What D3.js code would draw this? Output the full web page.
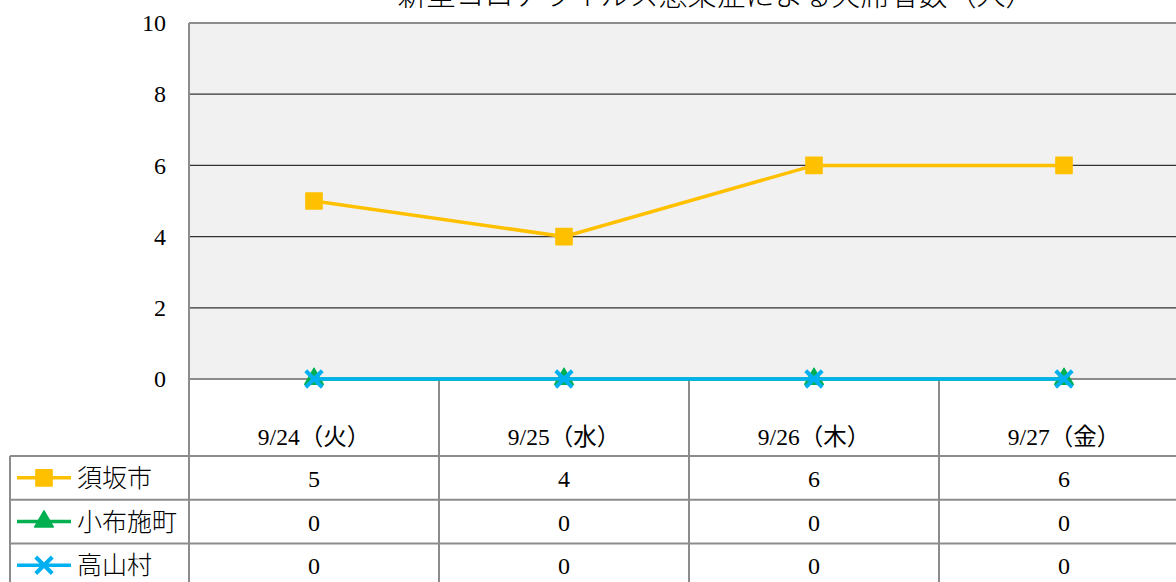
<!DOCTYPE html>
<html>
<head>
<meta charset="utf-8">
<script src="https://cdn.jsdelivr.net/npm/d3@7"></script>
<style>
body { margin: 0; background: #fff; }
text { font-family: "Liberation Serif", "Noto Sans CJK JP", serif; fill: #000; }
</style>
</head>
<body>
<div class="holder"></div>
<script>
var title = '新型コロナウイルス感染症による欠席者数（人）'
var dates = ['9/24（火）', '9/25（水）', '9/26（木）', '9/27（金）']
var names = ['須坂市', '小布施町', '高山村']
var suzaka = [5, 4, 6, 6]
var obuse = [0, 0, 0, 0]
var takayama = [0, 0, 0, 0]
var yTicks = [0, 2, 4, 6, 8, 10]

var width = 1176,
height = 582,
plotLeft = 189,
plotRight = 1189,
plotTop = 23,
plotBottom = 379,
headBottom = 456,
rowH = 43.7,
tableLeft = 10

var colors = ['#FFC000', '#00B050', '#00B0F0']
var series = [suzaka, obuse, takayama]

var svg = d3.select('.holder')
.append('svg')
.attr('width', width)
.attr('height', height)

var xScale = d3.scaleBand()
.domain(dates)
.range([plotLeft, plotRight])

var yScale = d3.scaleLinear()
.domain([0, 10])
.range([plotBottom, plotTop])

// plot background
svg.append('rect')
.attr('x', plotLeft)
.attr('y', plotTop)
.attr('width', plotRight - plotLeft)
.attr('height', plotBottom - plotTop)
.attr('fill', '#f1f1f1')

// gridlines
svg.selectAll('.grid')
.data(yTicks.filter(function(d){ return d > 0 && d < 10 }))
.enter()
.append('line')
.attr('x1', plotLeft)
.attr('x2', plotRight)
.attr('y1', function(d){ return yScale(d) })
.attr('y2', function(d){ return yScale(d) })
.attr('stroke', '#333')
.attr('stroke-width', 1.2)

var grey = '#8c8c8c'

// plot border top / left / bottom
svg.append('line').attr('x1', plotLeft).attr('x2', plotRight).attr('y1', yScale(10)).attr('y2', yScale(10)).attr('stroke', grey).attr('stroke-width', 2)
svg.append('line').attr('x1', plotLeft).attr('x2', plotRight).attr('y1', yScale(0)).attr('y2', yScale(0)).attr('stroke', grey).attr('stroke-width', 2)
svg.append('line').attr('x1', plotLeft).attr('x2', plotLeft).attr('y1', plotTop).attr('y2', height).attr('stroke', grey).attr('stroke-width', 2)

// y axis labels
var yAxis = d3.axisLeft(yScale)
.tickValues(yTicks)
.tickSize(0)
.tickPadding(0)

var yG = svg.append('g')
.attr('transform', 'translate(166,0)')
.call(yAxis)
yG.select('.domain').remove()
yG.selectAll('text')
.style('font-family', '"Liberation Serif", serif')
.style('font-size', '24px')
.attr('fill', '#000')
.attr('dy', '0.32em')

// table lines
var rowsY = [headBottom, headBottom + rowH, headBottom + rowH * 2]
svg.selectAll('.hrow')
.data(rowsY)
.enter()
.append('line')
.attr('x1', tableLeft)
.attr('x2', width)
.attr('y1', function(d){ return d })
.attr('y2', function(d){ return d })
.attr('stroke', grey)
.attr('stroke-width', 2)

svg.append('line').attr('x1', tableLeft).attr('x2', tableLeft).attr('y1', headBottom).attr('y2', height).attr('stroke', grey).attr('stroke-width', 2)

svg.selectAll('.vcol')
.data(dates.slice(1))
.enter()
.append('line')
.attr('x1', function(d){ return xScale(d) })
.attr('x2', function(d){ return xScale(d) })
.attr('y1', plotBottom)
.attr('y2', height)
.attr('stroke', grey)
.attr('stroke-width', 2)

// header labels
svg.selectAll('.date')
.data(dates)
.enter()
.append('text')
.attr('x', function(d){ return xScale(d) + xScale.bandwidth() / 2 })
.attr('y', 445)
.attr('text-anchor', 'middle')
.style('font-size', '23.5px')
.text(function(d){ return d })

// title
svg.append('text')
.attr('x', 716)
.attr('y', 6)
.attr('text-anchor', 'middle')
.style('font-size', '29px')
.style('font-family', '"Noto Sans CJK JP", sans-serif')
.style('font-weight', '300')
.text(title)

var line = d3.line()
.x(function(d, i){ return xScale(dates[i]) + xScale.bandwidth() / 2 })
.y(function(d){ return yScale(d) })

var sym = [d3.symbolSquare, d3.symbolTriangle, d3.symbolX]
var symSize = [260, 150, 180]

function drawMarker(g, k, x, y) {
  var p = g.append('path')
  .attr('d', d3.symbol().type(sym[k]).size(symSize[k])())
  .attr('transform', 'translate(' + x + ',' + y + ')')
  if (k == 2) {
    p.attr('fill', 'none').attr('stroke', colors[k]).attr('stroke-width', 4)
  } else {
    p.attr('fill', colors[k]).attr('stroke', colors[k]).attr('stroke-width', 1.5).attr('stroke-linejoin', 'round')
  }
}

series.forEach(function(vals, k) {
  svg.append('path')
  .datum(vals)
  .attr('d', line)
  .attr('fill', 'none')
  .attr('stroke', colors[k])
  .attr('stroke-width', 3.5)

  vals.forEach(function(v, i) {
    drawMarker(svg, k, xScale(dates[i]) + xScale.bandwidth() / 2, yScale(v))
  })

  // table row
  var rowMid = headBottom + rowH * k + rowH / 2
  svg.append('line')
  .attr('x1', 17)
  .attr('x2', 71)
  .attr('y1', rowMid)
  .attr('y2', rowMid)
  .attr('stroke', colors[k])
  .attr('stroke-width', 3.5)
  drawMarker(svg, k, 44, rowMid)

  svg.append('text')
  .attr('x', 77)
  .attr('y', rowMid + 9)
  .style('font-size', '25px')
  .style('font-family', '"Noto Sans CJK JP", sans-serif')
  .style('font-weight', '300')
  .text(names[k])

  svg.selectAll('.val' + k)
  .data(vals)
  .enter()
  .append('text')
  .attr('x', function(d, i){ return xScale(dates[i]) + xScale.bandwidth() / 2 })
  .attr('y', rowMid + 9)
  .attr('text-anchor', 'middle')
  .style('font-size', '24px')
  .text(function(d){ return d })
})
</script>
</body>
</html>
